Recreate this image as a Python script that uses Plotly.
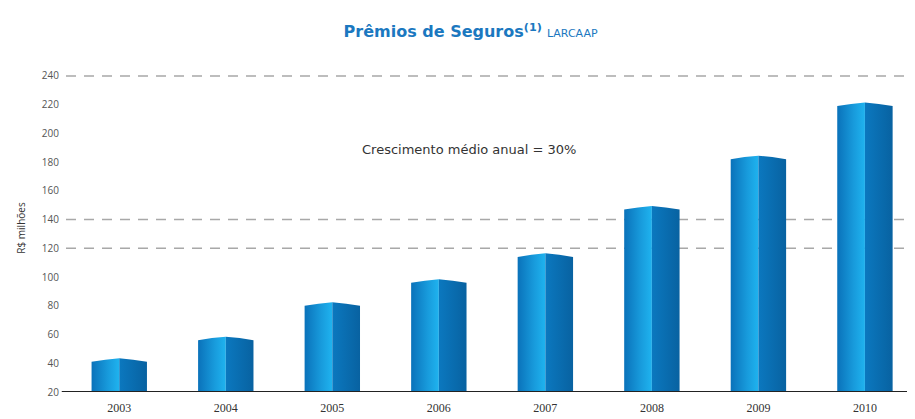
import plotly.graph_objects as go

years = ["2003", "2004", "2005", "2006", "2007", "2008", "2009", "2010"]
premios = [41, 56, 80, 96, 114, 147, 182, 219]
y_ticks = [20, 40, 60, 80, 100, 120, 140, 160, 180, 200, 220, 240]
dashed_levels = [120, 140, 240]
title_text = "<b>Prêmios de Seguros<sup>(1)</sup></b> <span style='font-size:11px'>LARCAAP</span>"
note_text = "Crescimento médio anual = 30%"
y_title = "R$ milhões"

BASE = 20
HALF = 0.26
PEAK = 2.5

fig = go.Figure()
for i, v in enumerate(premios):
    # left (lit) face
    fig.add_trace(go.Scatter(
        x=[i - HALF, i - HALF, i - HALF * 0.5, i, i, i - HALF],
        y=[BASE, v, v + PEAK * 0.6, v + PEAK, BASE, BASE],
        mode="lines", fill="toself", line=dict(width=0),
        fillgradient=dict(type="horizontal",
                          colorscale=[[0, "#0a72ba"], [0.6, "#189bdc"], [1, "#1fb3ef"]]),
        hoverinfo="skip", showlegend=False))
    # right (shaded) face
    fig.add_trace(go.Scatter(
        x=[i, i, i + HALF * 0.5, i + HALF, i + HALF, i],
        y=[BASE, v + PEAK, v + PEAK * 0.6, v, BASE, BASE],
        mode="lines", fill="toself", line=dict(width=0),
        fillgradient=dict(type="horizontal",
                          colorscale=[[0, "#0b78bf"], [1, "#0862a1"]]),
        hoverinfo="skip", showlegend=False))

for lv in dashed_levels:
    fig.add_shape(type="line", xref="paper", x0=0, x1=1, yref="y", y0=lv, y1=lv,
                  line=dict(color="#a8a8a8", width=1.5, dash="10px,8px"), layer="below")

fig.add_annotation(text=note_text, xref="paper", x=0.475, yref="y", y=189,
                   showarrow=False, font=dict(size=13, color="#333333", family="DejaVu Sans"))

fig.update_layout(
    width=907, height=411,
    margin=dict(l=58, r=0, t=56, b=27),
    paper_bgcolor="white", plot_bgcolor="white",
    title=dict(text=title_text, x=0.51, xanchor="center", y=0.942, yanchor="middle",
               font=dict(size=16, color="#1b78c0", family="DejaVu Sans")),
    xaxis=dict(range=[-0.5, 7.47], tickmode="array", tickvals=list(range(len(years))),
               ticktext=years, showgrid=False, zeroline=False, showline=False,
               ticks="", ticklabelstandoff=7,
               tickfont=dict(size=12, color="#333333", family="Liberation Serif")),
    yaxis=dict(range=[BASE, 248.3], tickmode="array", tickvals=y_ticks, showgrid=False,
               zeroline=False, showline=False, ticks="", ticklabelstandoff=6,
               tickfont=dict(size=10, color="#555555", family="Open Sans"),
               title=dict(text=y_title, font=dict(size=10, color="#333333", family="Open Sans"),
                          standoff=14)),
)
fig.add_shape(type="line", xref="paper", x0=-0.005, x1=1, yref="y", y0=BASE, y1=BASE,
              line=dict(color="#222222", width=2))

fig.write_html("out.html")
